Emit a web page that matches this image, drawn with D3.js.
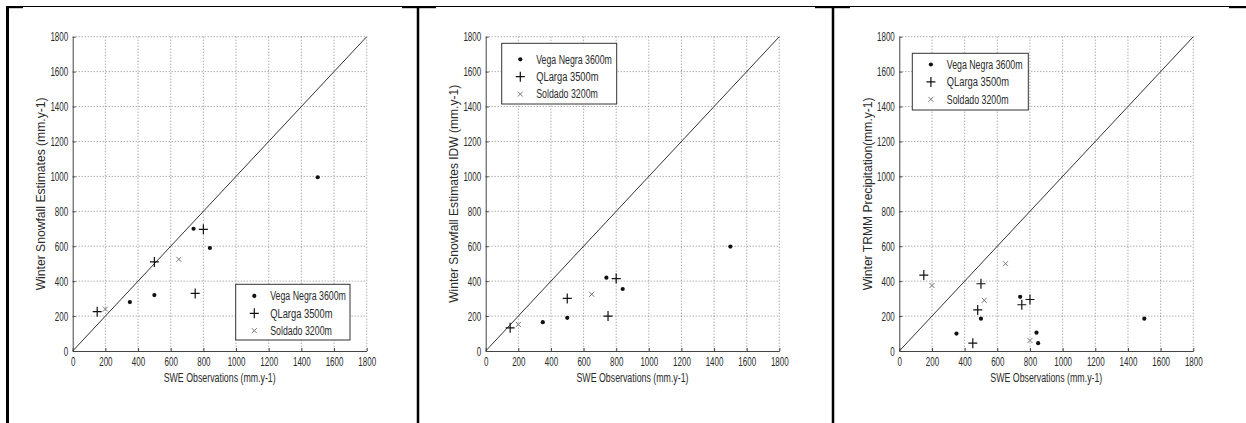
<!DOCTYPE html>
<html>
<head>
<meta charset="utf-8">
<script src="https://cdn.jsdelivr.net/npm/d3@7"></script>
<style>
  html, body { margin: 0; padding: 0; background: #fff; }
  svg { display: block; }
  text { font-family: "Liberation Sans", Arial, sans-serif; fill: #2a2a2a; }
</style>
</head>
<body>
<svg id="chart" width="1246" height="423"></svg>
<script>
// ---------------- DATA ----------------
const tickValues = [0, 200, 400, 600, 800, 1000, 1200, 1400, 1600, 1800];
const seriesNames = ["Vega Negra 3600m", "QLarga 3500m", "Soldado 3200m"];
const xAxisLabel = "SWE Observations (mm.y-1)";
const yAxisLabels = [
  "Winter Snowfall Estimates (mm.y-1)",
  "Winter Snowfall Estimates IDW (mm.y-1)",
  "Winter TRMM Precipitation(mm.y-1)"
];

// Panel 1: Winter Snowfall Estimates
const p1VegaNegra = [[350, 280], [500, 320], [740, 700], [840, 590], [1500, 995]];
const p1QLarga    = [[150, 225], [500, 510], [750, 330], [800, 697]];
const p1Soldado   = [[200, 240], [650, 525]];

// Panel 2: Winter Snowfall Estimates IDW
const p2VegaNegra = [[350, 165], [500, 190], [740, 420], [840, 355], [1500, 598]];
const p2QLarga    = [[150, 133], [500, 301], [750, 200], [800, 415]];
const p2Soldado   = [[200, 152], [650, 325]];

// Panel 3: Winter TRMM Precipitation
const p3VegaNegra = [[350, 100], [500, 185], [740, 310], [840, 105], [850, 45], [1500, 185]];
const p3QLarga    = [[150, 435], [450, 45], [480, 235], [500, 385], [750, 265], [800, 295]];
const p3Soldado   = [[200, 375], [520, 290], [650, 500], [800, 60]];

const diagonal = [[0, 0], [1800, 1800]];

// ---------------- LAYOUT ----------------
const svg = d3.select("#chart");

const panels = [
  { left: 72.7, right: 366.7, top: 36.7, bottom: 351, ylabX: 45, ylabLen: 193, xlabLen: 112,
    legend: { x: 235.7, y: 284.3, w: 114.3, h: 55.7, row0: 11.6 },
    series: [p1VegaNegra, p1QLarga, p1Soldado] },
  { left: 485.7, right: 779.3, top: 36.7, bottom: 351, ylabX: 457.5, ylabLen: 218, xlabLen: 112,
    legend: { x: 501.7, y: 43.3, w: 115, h: 60.7, row0: 16 },
    series: [p2VegaNegra, p2QLarga, p2Soldado] },
  { left: 899.3, right: 1193.3, top: 36.7, bottom: 351, ylabX: 871.5, ylabLen: 193, xlabLen: 112,
    legend: { x: 912.3, y: 53.3, w: 116, h: 56.7, row0: 11.2 },
    series: [p3VegaNegra, p3QLarga, p3Soldado] }
];

// ---------------- FRAME (table borders) ----------------
const frame = svg.append("g");
frame.append("line").attr("x1", 6).attr("x2", 1246).attr("y1", 6.5).attr("y2", 6.5)
  .attr("stroke", "#000").attr("stroke-width", 1);
[[6, 23], [402, 436], [815, 850], [1229, 1246]].forEach(([a, b]) => {
  frame.append("rect").attr("x", a).attr("y", 6).attr("width", b - a).attr("height", 2.2).attr("fill", "#000");
});
[[7.5, 3], [418, 2.5], [833, 2.5]].forEach(([x, w]) => {
  frame.append("line").attr("x1", x).attr("x2", x).attr("y1", 6).attr("y2", 423)
    .attr("stroke", "#000").attr("stroke-width", w);
});

function condense(sel, factor) {
  sel.each(function () {
    const w = this.getComputedTextLength();
    this.setAttribute("textLength", (w * factor).toFixed(2));
    this.setAttribute("lengthAdjust", "spacingAndGlyphs");
  });
}

function marker(g, type, cx, cy) {
  if (type === 0) {
    g.append("circle").attr("cx", cx).attr("cy", cy).attr("r", 2.1).attr("fill", "#111");
  } else if (type === 1) {
    g.append("path").attr("d", `M${cx - 4.5},${cy}H${cx + 4.5}M${cx},${cy - 5}V${cy + 5}`)
      .attr("stroke", "#111").attr("stroke-width", 1.2).attr("fill", "none");
  } else {
    g.append("path").attr("d", `M${cx - 2.5},${cy - 2.5}L${cx + 2.5},${cy + 2.5}M${cx - 2.5},${cy + 2.5}L${cx + 2.5},${cy - 2.5}`)
      .attr("stroke", "#777").attr("stroke-width", 1).attr("fill", "none");
  }
}

panels.forEach((p, i) => {
  const x = d3.scaleLinear().domain([0, 1800]).range([p.left, p.right]);
  const y = d3.scaleLinear().domain([0, 1800]).range([p.bottom, p.top]);
  const g = svg.append("g");

  // grid (dotted)
  const grid = g.append("g");
  tickValues.filter(v => v > 0).forEach(v => {
    grid.append("line").attr("x1", x(v)).attr("x2", x(v)).attr("y1", p.top).attr("y2", p.bottom)
      .attr("stroke", "#8a8a8a").attr("stroke-width", 1).attr("stroke-dasharray", "1,2");
    grid.append("line").attr("x1", p.left).attr("x2", p.right).attr("y1", y(v)).attr("y2", y(v))
      .attr("stroke", "#8a8a8a").attr("stroke-width", 1).attr("stroke-dasharray", "1,2");
  });

  // axes
  const fmt = d3.format("d");
  const xAxis = g.append("g").attr("transform", `translate(0,${p.bottom})`)
    .call(d3.axisBottom(x).tickValues(tickValues).tickFormat(fmt).tickSizeInner(-3).tickSizeOuter(0).tickPadding(7));
  const yAxis = g.append("g").attr("transform", `translate(${p.left},0)`)
    .call(d3.axisLeft(y).tickValues(tickValues).tickFormat(fmt).tickSizeInner(-3).tickSizeOuter(0).tickPadding(7));
  [xAxis, yAxis].forEach(a => {
    a.select(".domain").attr("stroke", "#444").attr("stroke-width", 1);
    a.selectAll(".tick line").attr("stroke", "#444");
    a.selectAll("text").style("font-family", '"Liberation Sans", Arial, sans-serif')
      .style("font-size", "12.5px").attr("fill", "#2a2a2a");
  });
  xAxis.selectAll("text").attr("dy", "0.71em").attr("y", 6);
  yAxis.selectAll("text").attr("x", -4.5);
  condense(xAxis.selectAll("text"), 0.64);
  condense(yAxis.selectAll("text"), 0.64);

  // 1:1 line
  g.append("path").datum(diagonal)
    .attr("d", d3.line().x(d => x(d[0])).y(d => y(d[1])))
    .attr("stroke", "#333").attr("stroke-width", 1).attr("fill", "none");

  // points
  const pts = g.append("g");
  p.series.forEach((s, k) => s.forEach(d => marker(pts, k, x(d[0]), y(d[1]))));

  // axis labels
  g.append("text").attr("x", (p.left + p.right) / 2).attr("y", 382)
    .attr("text-anchor", "middle").style("font-size", "12px")
    .attr("textLength", p.xlabLen).attr("lengthAdjust", "spacingAndGlyphs")
    .text(xAxisLabel);
  g.append("text").attr("transform", `translate(${p.ylabX},${(p.top + p.bottom) / 2}) rotate(-90)`)
    .attr("text-anchor", "middle").style("font-size", "13px")
    .attr("textLength", p.ylabLen).attr("lengthAdjust", "spacingAndGlyphs")
    .text(yAxisLabels[i]);

  // legend
  const L = p.legend;
  const lg = g.append("g");
  lg.append("rect").attr("x", L.x).attr("y", L.y).attr("width", L.w).attr("height", L.h)
    .attr("fill", "#fff").attr("stroke", "#333").attr("stroke-width", 1);
  const legLens = [75.7, 62.3, 61.7];
  seriesNames.forEach((name, k) => {
    const ry = L.y + L.row0 + k * 17.4;
    marker(lg, k, L.x + 18.6, ry);
    lg.append("text").attr("x", L.x + 34.5).attr("y", ry + 4.3)
      .style("font-size", "12.5px")
      .attr("textLength", legLens[k]).attr("lengthAdjust", "spacingAndGlyphs")
      .text(name);
  });
});
</script>
</body>
</html>
